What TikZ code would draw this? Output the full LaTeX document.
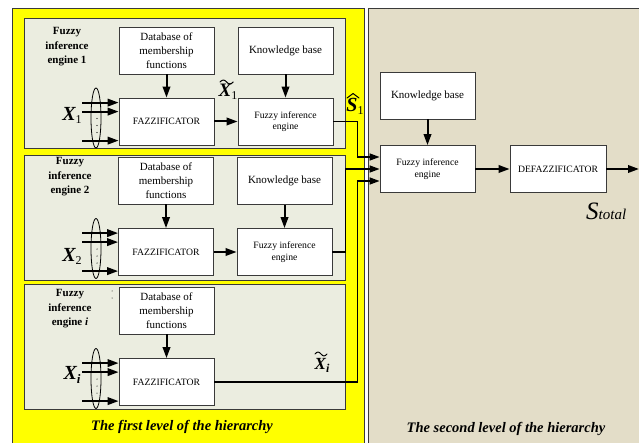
\documentclass[tikz,border=0pt]{standalone}
\usepackage{fontspec}
\setmainfont{Liberation Serif}
\usetikzlibrary{arrows.meta}

\definecolor{levelone}{HTML}{FFFF00}
\definecolor{panelfill}{HTML}{EBEDE0}
\definecolor{leveltwo}{HTML}{E3DDC8}
\definecolor{edge}{HTML}{3A3A3A}

% bold italic symbol with an upright subscript
\newcommand\sym[4]{{\fontsize{#3}{#3}\selectfont\bfseries\itshape #1}%
  {\fontsize{#4}{#4}\selectfont\raisebox{-0.25em}{#2}}}

\begin{document}
\begin{tikzpicture}[x=1pt,y=-1pt,
  box/.style={draw=edge, line width=0.8pt, fill=white, minimum width=95pt,
    minimum height=47pt, inner sep=1pt, align=center,
    font=\fontsize{11}{14}\selectfont},
  smallbox/.style={box, font=\fontsize{9.7}{11.5}\selectfont},
  panel/.style={draw=edge, line width=0.8pt, fill=panelfill},
  flow/.style={-{Triangle[length=11pt,width=7.5pt]}, line width=2pt},
  link/.style={-{Triangle[length=10pt,width=7pt]}, line width=1.3pt},
  paneltitle/.style={font=\bfseries\fontsize{11}{14.5}\selectfont, align=center},
  levelcaption/.style={font=\bfseries\itshape\fontsize{14.5}{14.5}\selectfont},
  bundle/.style={draw=black, line width=0.8pt},
  accentline/.style={draw=black, line width=1pt, line cap=round, line join=round}
]
\useasboundingbox (0,0) rectangle (639,443);
\fill[white] (0,0) rectangle (639,443);

% the two levels of the hierarchy
\filldraw[fill=levelone, draw=edge, line width=0.8pt] (12,8) rectangle (364,446);
\filldraw[fill=leveltwo, draw=edge, line width=0.8pt] (368,8) rectangle (642,446);

% first-level panels
\draw[panel] (24,18) rectangle (345,148);
\draw[panel] (24,155) rectangle (345,280);
\draw[panel] (24,284) rectangle (345,409);

\node[paneltitle] (t1) at (67,47) {Fuzzy\\inference\\engine 1};
\node[paneltitle] (t2) at (70,177) {Fuzzy\\inference\\engine 2};
\node[paneltitle] (t3) at (70,309) {Fuzzy\\inference\\engine \textit{i}};

% engine 1
\node[box] (db1) at (166.5,50.5) {Database of\\membership\\functions};
\node[smallbox] (fz1) at (166.5,121.5) {FAZZIFICATOR};
\node[box] (kb1) at (285.5,50.5) {Knowledge base};
\node[smallbox] (fie1) at (285.5,121.5) {Fuzzy inference\\engine};
% engine 2
\node[box] (db2) at (166,180.5) {Database of\\membership\\functions};
\node[smallbox] (fz2) at (166,252) {FAZZIFICATOR};
\node[box] (kb2) at (284.5,181) {Knowledge base};
\node[smallbox] (fie2) at (284.5,252) {Fuzzy inference\\engine};
% engine i
\node[box] (db3) at (166.5,310.5) {Database of\\membership\\functions};
\node[smallbox] (fz3) at (166.5,382) {FAZZIFICATOR};

% second level
\node[box] (kb) at (427.5,95.5) {Knowledge base};
\node[smallbox] (fie) at (427.5,169) {Fuzzy inference\\engine};
\node[smallbox, minimum width=96pt] (dfz) at (558,169) {DEFAZZIFICATOR};
\coordinate (out) at (639,169);

% arrows inside the engines
\foreach \k in {1,2,3} {
  \draw[flow] (db\k) -- (fz\k);
  \foreach \dy/\n in {5/a,14/b,43/c} {
    \coordinate (in\k\n) at ([yshift=-\dy pt]fz\k.north west -| 82,0);
    \draw[flow] (in\k\n) -- (in\k\n -| fz\k.west);
  }
  \draw[bundle] ([yshift=3.5pt]fz\k.center -| 96,0) ellipse [x radius=5pt, y radius=30pt];
  \foreach \dy in {21,28,35}
    \fill ([yshift=-\dy pt]fz\k.north -| 97,0) circle (0.6pt);
}
\foreach \k in {1,2} {
  \draw[flow] (kb\k) -- (fie\k);
  \draw[flow] (fz\k) -- (fie\k);
}
\fill (112,291) circle (0.5pt) (112,298) circle (0.5pt);

% outputs of the first level into the second level
\draw[link] (fie1.east) -- ++(24,0) |- ([yshift=12pt]fie.west);
\draw[link] (fie2.east) -- ++(13,0) |- (fie.west);
\draw[link] (fz3.east) -- ++(143,0) |- ([yshift=-12pt]fie.west);

\draw[flow] (kb) -- (fie);
\draw[flow] (fie) -- (dfz);
\draw[flow] (dfz) -- (out);

% signal labels
\node (x1) at (72,115) {\sym{X}{1}{20}{12}};
\node (x2) at (72,256) {\sym{X}{2}{20}{12}};
\node (xi) at (72,375) {\sym{X}{\textit{\bfseries i}}{20}{13}};
\node (xt1) at (228,92) {\sym{X}{1}{19}{12}};
\node (s1) at (355,106) {\sym{S}{1}{20}{12}};
\node (xti) at (322,365) {\sym{X}{\textit{\bfseries i}}{17}{12}};
\node[anchor=base west, inner sep=0pt] (stot) at (586,220)
  {{\fontsize{25}{25}\selectfont\itshape S}{\fontsize{15}{15}\selectfont\itshape total}};

% tildes and hat over the estimated signals
\draw[accentline] (220,82) sin ++(3.3,-2) cos ++(3.3,2) sin ++(3.3,2) cos ++(3.3,-2);
\draw[accentline] (315,354) sin ++(3,-2) cos ++(3,2) sin ++(3,2) cos ++(3,-2);
\draw[accentline] (347,98) -- ++(6,-4.5) -- ++(6,4.5);

% captions
\node[levelcaption] (cap1) at (182,427) {The first level of the hierarchy};
\node[levelcaption] (cap2) at (506,429) {The second level of the hierarchy};
\end{tikzpicture}
\end{document}
